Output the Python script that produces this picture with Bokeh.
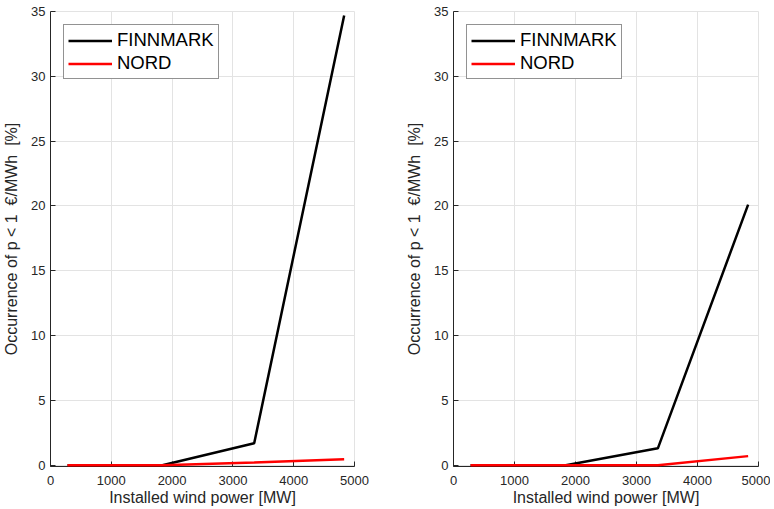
from bokeh.plotting import figure
from bokeh.layouts import row
from bokeh.models import Legend, LegendItem, FixedTicker, Range1d
from bokeh.embed import file_html
from bokeh.resources import INLINE

# Data
wind_mw = [280, 1840, 3350, 4830]
left_finnmark = [0.0, 0.0, 1.7, 34.7]
left_nord = [0.0, 0.0, 0.2, 0.45]
right_finnmark = [0.0, 0.0, 1.3, 20.1]
right_nord = [0.0, 0.0, 0.0, 0.7]
x_ticks = [0, 1000, 2000, 3000, 4000, 5000]
y_ticks = [0, 5, 10, 15, 20, 25, 30, 35]
series_names = ["FINNMARK", "NORD"]

FONT = "Liberation Sans"
AX = "#262626"
NB = "\u00a0"


def make_plot(fin, nord, frame_w, border_right):
    p = figure(frame_width=frame_w, frame_height=455, output_backend="svg",
               toolbar_location=None, x_range=Range1d(0, 5000), y_range=Range1d(-0.1, 35),
               min_border_left=43, min_border_right=border_right,
               min_border_top=11, min_border_bottom=40)
    p.background_fill_color = "white"
    p.border_fill_color = "white"
    p.outline_line_color = "#e3e3e3"
    p.outline_line_width = 1
    for ax in (p.xaxis[0], p.yaxis[0]):
        ax.axis_line_color = AX
        ax.major_tick_line_color = AX
        ax.major_tick_in = 5
        ax.major_tick_out = 0
        ax.minor_tick_line_color = None
        ax.major_label_text_font = FONT
        ax.major_label_text_font_size = "13px"
        ax.major_label_text_color = AX
        ax.axis_label_text_font = FONT
        ax.axis_label_text_font_size = "16px"
        ax.axis_label_text_font_style = "normal"
        ax.axis_label_text_color = AX
    p.xaxis.ticker = FixedTicker(ticks=x_ticks)
    p.yaxis.ticker = FixedTicker(ticks=y_ticks)
    p.xaxis.axis_label = "Installed wind power [MW]"
    p.yaxis.axis_label = "Occurrence of p < 1" + NB + NB + "\u20ac/MWh" + NB + NB + "[%]"
    p.xaxis.major_label_standoff = 9
    p.xaxis.axis_label_standoff = 1
    p.yaxis.major_label_standoff = 5
    p.yaxis.axis_label_standoff = 8
    p.grid.grid_line_color = "#e3e3e3"
    p.grid.grid_line_width = 1

    r1 = p.line(wind_mw, fin, line_color="black", line_width=2.5, level="overlay")
    r2 = p.line(wind_mw, nord, line_color="#ff0000", line_width=2.5, level="overlay")
    leg = Legend(items=[LegendItem(label=series_names[0], renderers=[r1]),
                        LegendItem(label=series_names[1], renderers=[r2])],
                 location="top_left")
    leg.margin = 13
    leg.padding = 4
    leg.spacing = 1
    leg.glyph_width = 44
    leg.glyph_height = 19
    leg.label_height = 19
    leg.label_standoff = 5
    leg.label_text_font = FONT
    leg.label_text_font_size = "18.5px"
    leg.label_text_color = "black"
    leg.border_line_color = AX
    leg.border_line_width = 1
    leg.background_fill_color = "white"
    leg.background_fill_alpha = 1
    p.add_layout(leg)
    return p


p1 = make_plot(left_finnmark, left_nord, 304, 49)
p2 = make_plot(right_finnmark, right_nord, 305, 12)
layout = row(p1, p2)

open("out.html", "w").write(file_html(layout, INLINE))
